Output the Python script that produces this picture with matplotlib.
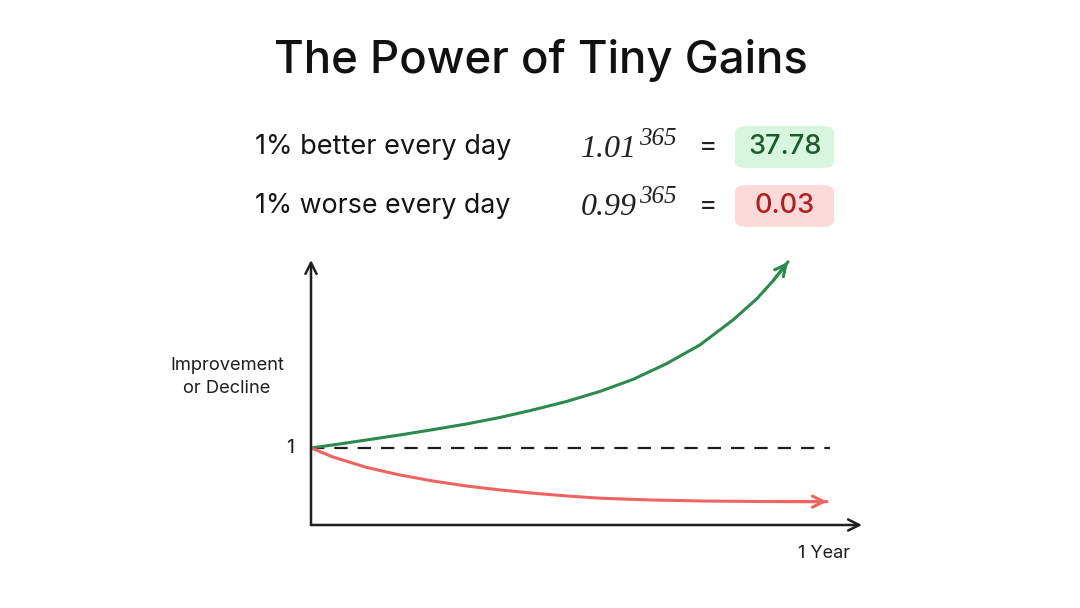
import matplotlib
matplotlib.use("Agg")
import matplotlib.pyplot as plt
from matplotlib.patches import FancyBboxPatch

# ---------------- data (schematic) ----------------
# horizontal position as fraction of the x-axis length, vertical in "baseline = 1" units
green_t = [0.0, 0.0399, 0.1011, 0.1615, 0.2214, 0.2826, 0.343, 0.4029, 0.4641, 0.5245,
           0.5844, 0.6443, 0.706, 0.7659, 0.8089, 0.8385, 0.8657]
green_v = [1.0, 1.039, 1.104, 1.169, 1.238, 1.312, 1.396, 1.494, 1.604, 1.734,
           1.890, 2.091, 2.338, 2.662, 2.935, 3.169, 3.416]
red_t = [0.0, 0.0399, 0.1011, 0.1615, 0.2214, 0.2826, 0.343, 0.4029, 0.4641, 0.5245,
         0.6152, 0.706, 0.8149, 0.9365]
red_v = [1.0, 0.883, 0.747, 0.649, 0.571, 0.506, 0.455, 0.413, 0.377, 0.348,
         0.325, 0.312, 0.305, 0.303]
baseline = 1.0
baseline_end = 0.942
y_top = 3.44

title = "The Power of Tiny Gains"
row_labels = ["1% better every day", "1% worse every day"]
row_bases = ["1.01", "0.99"]
row_exp = "365"
row_results = ["37.78", "0.03"]
y_label = "Improvement\nor Decline"
x_label = "1 Year"

GREEN = "#2b8a4c"
RED = "#ef6461"
DARK = "#1f1f1f"

plt.rcParams["font.family"] = ["Inter", "DejaVu Sans"]

W, H = 1080, 608
fig = plt.figure(figsize=(W / 100, H / 100), dpi=100)
fig.patch.set_facecolor("white")


def fx(px):
    return px / W


def fy(py):
    return 1 - py / H


def extent(t):
    fig.canvas.draw()
    return t.get_window_extent(fig.canvas.get_renderer())


def fit_width(t, target):
    bb = extent(t)
    t.set_fontsize(t.get_fontsize() * target / bb.width)


# ---------------- chart ----------------
ax = fig.add_axes([fx(311), fy(525), fx(862) - fx(311), fy(260) - fy(525)])
ax.set_xlim(0, 1)
ax.set_ylim(0, y_top)
ax.axis("off")

axis_kw = dict(arrowstyle="->", lw=1.8, color=DARK, shrinkA=0, shrinkB=0, mutation_scale=20)
ax.annotate("", xy=(1, 0), xytext=(0, 0), arrowprops=axis_kw, annotation_clip=False)
ax.annotate("", xy=(0, y_top), xytext=(0, 0), arrowprops=axis_kw, annotation_clip=False)

ax.plot([0, baseline_end], [baseline, baseline], color=DARK, lw=1.6, dashes=(6, 4.5))

ax.plot(green_t, green_v, color=GREEN, lw=2.2, solid_capstyle="round",
        solid_joinstyle="round")
ax.annotate("", xy=(green_t[-1], green_v[-1]), xytext=(green_t[-2], green_v[-2]),
            arrowprops=dict(arrowstyle="->", lw=2.2, color=GREEN, shrinkA=0, shrinkB=0,
                            mutation_scale=20), annotation_clip=False)
ax.plot(red_t, red_v, color=RED, lw=2.2, solid_capstyle="round", solid_joinstyle="round")
ax.annotate("", xy=(red_t[-1], red_v[-1]), xytext=(red_t[-2], red_v[-2]),
            arrowprops=dict(arrowstyle="->", lw=2.2, color=RED, shrinkA=0, shrinkB=0,
                            mutation_scale=20), annotation_clip=False)

ax.text(-0.03, baseline, "1", ha="right", va="center", fontsize=14, color=DARK)
fig.text(fx(227), fy(377), y_label, ha="center", va="center", fontsize=13.2,
         color=DARK, linespacing=1.4)
fig.text(fx(824), fy(553), x_label, ha="center", va="center", fontsize=13, color=DARK)

# ---------------- title ----------------
tt = fig.text(fx(540.5), fy(60), title, ha="center", va="center", fontsize=36,
              fontweight="medium", color="#111111")
fit_width(tt, 535)

# ---------------- formula rows ----------------
row_y = [147, 206]
base_baseline = [157, 215]
box_fill = ["#d8f6de", "#fbdada"]
box_txt = ["#1d5a2d", "#b31d1d"]
for i in range(2):
    yc = row_y[i]
    t = fig.text(fx(255), fy(yc), row_labels[i], ha="left", va="center", fontsize=18,
                 color="#141414")
    fit_width(t, 255)
    b = fig.text(fx(581), fy(base_baseline[i]), row_bases[i], ha="left", va="baseline",
                 fontsize=23, family="Liberation Serif", style="italic", color="#222222")
    bb = extent(b)
    fig.text(bb.x1 / W + fx(2), fy(base_baseline[i] - 12), row_exp, ha="left",
             va="baseline", fontsize=18, family="Liberation Serif", style="italic",
             color="#222222")
    fig.text(fx(708), fy(yc), "=", ha="center", va="center", fontsize=20, color="#222222")
    box = FancyBboxPatch((fx(735), fy(yc + 21)), fx(834) - fx(735), fy(yc - 21) - fy(yc + 21),
                         boxstyle="round,pad=0,rounding_size=0.011", transform=fig.transFigure,
                         facecolor=box_fill[i], edgecolor="none")
    fig.add_artist(box)
    fig.text(fx(785), fy(yc), row_results[i], ha="center", va="center", fontsize=19.5,
             color=box_txt[i], fontweight="medium")

fig.savefig("out.png", dpi=100, facecolor="white")
